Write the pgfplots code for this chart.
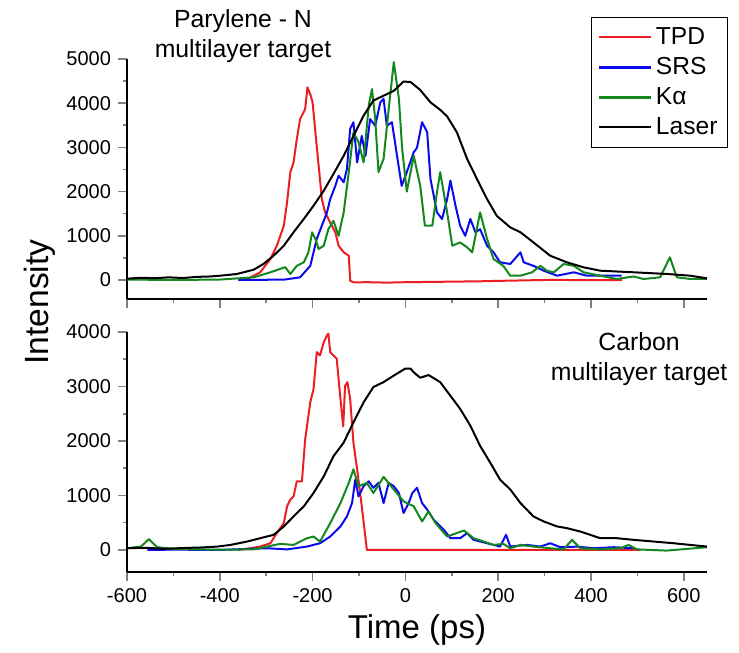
\documentclass[border=0pt]{standalone}
\usepackage{fontspec}
\setmainfont{Liberation Sans}
\usepackage{pgfplots}
\pgfplotsset{compat=1.18}
\definecolor{cTPD}{RGB}{235,30,35}
\definecolor{cSRS}{RGB}{10,10,235}
\definecolor{cKa}{RGB}{20,135,30}

\pgfplotsset{
  panel/.style={
    width=290pt, height=120pt, scale only axis,
    xmin=-600, xmax=650, clip=false,
    axis x line*=bottom, axis y line*=left,
    axis line style={-, line width=0.9pt},
    tick align=outside, major tick length=4.5pt, minor tick length=2.2pt,
    tick style={line width=0.8pt},
    xtick={-600,-400,...,600}, minor x tick num=1, minor y tick num=1,
    tick label style={font=\fontsize{10}{12}\selectfont},
    /pgf/number format/assume math mode=true,
    /pgf/number format/1000 sep={},
  },
  sig/.style={color=#1, line width=1pt, line join=round},
}

\begin{document}
\begin{tikzpicture}
\useasboundingbox (-63.5pt,-40.5pt) rectangle (306pt,286pt);

% top panel: Parylene-N
\begin{axis}[panel, at={(0,136.5pt)},
  ymin=-430, ymax=5000, ytick={0,1000,...,5000}, xticklabels={},
  legend cell align=left,
  legend style={at={(1.036,1.175)}, anchor=north east,
    font=\fontsize{12.3}{14}\selectfont, row sep=1pt, inner sep=3pt},
  legend image code/.code={\draw[#1] (0pt,0pt) -- (26pt,0pt);},
  legend image post style={line width=1.1pt}]
\addplot[sig=cTPD] coordinates {(-360,0) (-341,20) (-313,174) (-291,475) (-277,776) (-262,1230) (-255,1760) (-248,2440) (-241,2660) (-234,3190) (-227,3640) (-216,3870) (-211,4360) (-204,4170) (-200,4020) (-194,3340) (-187,2590) (-180,1830) (-173,1530) (-162,1300) (-151,1080) (-144,776) (-133,626) (-122,550) (-119,-15) (-112,-53) (-80,-50) (-40,-60) (0,-50) (40,-45) (80,-40) (120,-35) (160,-30) (200,-20) (250,-10) (300,0) (350,0) (400,-5) (467,0)};
\addlegendentry{TPD}
\addplot[sig=cSRS] coordinates {(-360,0) (-300,5) (-260,10) (-227,60) (-205,320) (-191,930) (-180,1230) (-169,1530) (-162,1830) (-151,2130) (-144,2360) (-133,2210) (-126,2510) (-119,3420) (-112,3570) (-104,2660) (-94,3260) (-86,2810) (-76,3640) (-65,3490) (-54,4020) (-47,4100) (-40,3490) (-29,3570) (-18,2810) (-8,2130) (3,2440) (18,2890) (25,2990) (36,3570) (47,3340) (54,2290) (68,1530) (79,1380) (90,1830) (97,2250) (108,1680) (118,1230) (129,1000) (140,1380) (151,1080) (161,1150) (176,776) (190,626) (204,400) (226,362) (248,626) (255,400) (276,320) (298,210) (327,97) (363,174) (391,97) (434,97) (466,97)};
\addlegendentry{SRS}
\addplot[sig=cKa] coordinates {(-600,10) (-500,0) (-400,10) (-327,60) (-291,174) (-270,250) (-259,290) (-248,136) (-234,320) (-219,400) (-209,626) (-201,1080) (-194,930) (-187,700) (-176,776) (-166,1150) (-155,1340) (-144,1000) (-133,1530) (-122,2440) (-112,3340) (-101,3120) (-90,2660) (-79,3950) (-72,4320) (-65,3640) (-58,2440) (-47,2740) (-36,3870) (-25,4930) (-14,4100) (-7,2970) (3,2000) (18,2810) (32,2130) (42,1230) (58,1230) (68,1980) (75,2440) (90,1530) (101,776) (118,850) (133,740) (144,626) (161,1530) (176,930) (190,475) (211,320) (226,97) (248,97) (273,174) (291,320) (305,210) (320,174) (341,362) (363,320) (384,174) (420,97) (456,23) (492,80) (513,23) (549,60) (570,513) (585,60) (614,23) (650,23)};
\addlegendentry{Kα}
\addplot[sig=black] coordinates {(-600,30) (-570,50) (-540,40) (-510,60) (-480,45) (-450,70) (-420,80) (-399,97) (-363,136) (-327,233) (-306,362) (-284,550) (-262,776) (-241,1080) (-219,1380) (-198,1680) (-176,2020) (-155,2400) (-133,2810) (-112,3260) (-90,3720) (-69,4060) (-47,4170) (-25,4280) (-4,4490) (11,4480) (32,4300) (54,4020) (75,3850) (90,3700) (111,3340) (133,2740) (154,2290) (176,1830) (197,1450) (226,1190) (248,1080) (276,850) (312,550) (348,400) (384,287) (420,210) (492,174) (564,136) (614,97) (650,38)};
\addlegendentry{Laser}
\node[align=center, font=\fontsize{12.4}{15}\selectfont] at (rel axis cs:0.2,1.096) {Parylene - N\\multilayer target};
\end{axis}

% bottom panel: Carbon
\begin{axis}[panel, at={(0,0)},
  ymin=-405, ymax=4000, ytick={0,1000,...,4000},
  xlabel={Time (ps)},
  xlabel style={at={(axis description cs:0.5,0)}, anchor=center, yshift=-29pt,
    font=\fontsize{16.5}{18}\selectfont}]
\addplot[sig=cTPD] coordinates {(-360,0) (-334,31) (-313,62) (-291,123) (-277,308) (-262,492) (-255,800) (-248,922) (-241,983) (-234,1260) (-223,1260) (-216,2030) (-205,2710) (-198,2950) (-191,3630) (-184,3570) (-176,3810) (-169,3940) (-166,3970) (-162,3630) (-155,3570) (-148,3510) (-140,2770) (-134,2270) (-130,3010) (-125,3080) (-119,2770) (-112,1970) (-104,1480) (-94,800) (-83,0) (507,0)};
\addplot[sig=cSRS] coordinates {(-556,0) (-500,5) (-400,0) (-298,31) (-255,10) (-212,62) (-184,123) (-162,246) (-140,431) (-126,615) (-115,860) (-108,1290) (-101,983) (-90,1170) (-79,1260) (-69,1140) (-58,1230) (-47,860) (-36,1230) (-25,1170) (-14,1045) (-4,677) (7,860) (15,1045) (25,1140) (36,860) (47,738) (61,554) (83,369) (97,215) (118,215) (133,308) (147,185) (176,123) (204,62) (217,277) (226,62) (262,92) (291,62) (312,123) (334,50) (370,60) (406,31) (449,50) (492,31)};
\addplot[sig=cKa] coordinates {(-600,31) (-570,62) (-553,197) (-535,50) (-500,20) (-450,10) (-400,5) (-327,10) (-298,62) (-270,111) (-241,92) (-212,215) (-198,246) (-184,154) (-162,492) (-140,860) (-122,1230) (-112,1480) (-101,1170) (-83,1230) (-69,1045) (-47,1340) (-25,1110) (-4,892) (18,800) (36,523) (50,707) (65,492) (90,246) (126,357) (147,215) (169,154) (190,92) (211,111) (226,31) (248,92) (276,62) (312,31) (341,10) (359,185) (377,31) (420,10) (463,31) (481,92) (499,10) (563,-12) (650,50)};
\addplot[sig=black] coordinates {(-600,31) (-560,40) (-520,20) (-480,35) (-440,45) (-405,62) (-377,92) (-341,154) (-313,215) (-284,277) (-262,431) (-241,615) (-219,800) (-198,1045) (-176,1350) (-155,1720) (-133,1970) (-112,2340) (-90,2710) (-69,2990) (-47,3080) (-25,3200) (0,3330) (11,3330) (18,3260) (32,3160) (50,3210) (75,3080) (97,2830) (118,2590) (140,2280) (161,1910) (183,1600) (204,1290) (226,1110) (248,860) (276,615) (298,523) (327,431) (348,400) (377,338) (420,215) (456,215) (492,185) (535,154) (578,123) (614,92) (650,62)};
\node[align=center, font=\fontsize{12.4}{15}\selectfont] at (rel axis cs:0.883,0.887) {Carbon\\multilayer target};
\end{axis}

\node[rotate=90, font=\fontsize{16.8}{18}\selectfont] at (-43.5pt,135pt) {Intensity};
\end{tikzpicture}
\end{document}
